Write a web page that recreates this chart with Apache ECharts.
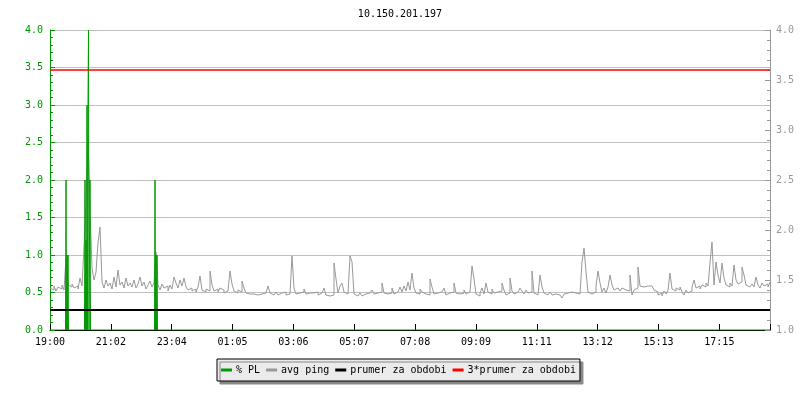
<!DOCTYPE html>
<html>
<head>
<meta charset="utf-8">
<script src="https://cdn.jsdelivr.net/npm/echarts@6/dist/echarts.min.js"></script>
<style>
html,body{margin:0;padding:0;background:#fff;}
#chart{width:800px;height:400px;}
</style>
</head>
<body>
<div id="chart"></div>
<script>
// Time axis: minutes after 19:00 (24 h window)
var xMax = 1440;
var xTickInterval = 121.7;
var xTickLabels = ['19:00','21:02','23:04','01:05','03:06','05:07','07:08','09:09','11:11','13:12','15:13','17:15'];

// avg ping [ms], one sample every 4 minutes starting at 19:00
var pingValues = [
  1.42,1.40,1.44,1.39,1.43,1.41,1.45,1.40,1.72,1.45,
  1.43,1.46,1.42,1.44,1.41,1.52,1.44,1.83,2.26,2.92,
  2.22,1.62,1.50,1.58,1.87,2.03,1.48,1.42,1.50,1.44,
  1.47,1.41,1.53,1.43,1.60,1.45,1.48,1.42,1.52,1.44,
  1.47,1.43,1.50,1.42,1.46,1.53,1.44,1.48,1.41,1.45,
  1.49,1.43,1.47,1.78,1.45,1.40,1.46,1.42,1.44,1.39,
  1.45,1.41,1.53,1.47,1.42,1.50,1.44,1.52,1.43,1.40,
  1.42,1.39,1.41,1.38,1.43,1.54,1.40,1.38,1.41,1.39,
  1.59,1.45,1.39,1.41,1.38,1.42,1.40,1.37,1.39,1.41,
  1.59,1.46,1.39,1.37,1.40,1.38,1.49,1.42,1.37,1.36,
  1.37,1.36,1.38,1.35,1.37,1.36,1.34,1.37,1.36,1.44,
  1.37,1.35,1.36,1.38,1.35,1.37,1.36,1.38,1.35,1.36,
  1.37,1.74,1.42,1.36,1.37,1.35,1.38,1.41,1.36,1.37,
  1.35,1.37,1.36,1.38,1.35,1.37,1.36,1.42,1.35,1.34,
  1.36,1.35,1.67,1.51,1.37,1.44,1.47,1.38,1.36,1.37,
  1.74,1.68,1.36,1.34,1.35,1.37,1.34,1.36,1.35,1.37,
  1.36,1.40,1.36,1.37,1.35,1.38,1.47,1.37,1.36,1.38,
  1.37,1.42,1.36,1.38,1.37,1.43,1.38,1.44,1.39,1.48,
  1.40,1.57,1.42,1.37,1.36,1.41,1.38,1.36,1.37,1.35,
  1.51,1.43,1.36,1.37,1.35,1.38,1.36,1.42,1.35,1.37,
  1.36,1.38,1.47,1.37,1.36,1.38,1.37,1.40,1.36,1.38,
  1.37,1.64,1.51,1.36,1.34,1.37,1.42,1.36,1.47,1.38,
  1.36,1.41,1.37,1.38,1.36,1.39,1.47,1.40,1.35,1.37,
  1.52,1.39,1.36,1.38,1.37,1.42,1.39,1.36,1.40,1.37,
  1.38,1.59,1.37,1.35,1.36,1.55,1.43,1.37,1.35,1.36,
  1.38,1.35,1.36,1.37,1.35,1.34,1.32,1.36,1.37,1.35,
  1.38,1.36,1.37,1.39,1.36,1.38,1.68,1.82,1.58,1.38,
  1.36,1.37,1.38,1.44,1.59,1.47,1.38,1.42,1.37,1.43,
  1.55,1.45,1.40,1.42,1.41,1.39,1.42,1.40,1.41,1.39,
  1.55,1.35,1.40,1.42,1.63,1.44,1.43,1.45,1.44,1.46,
  1.44,1.43,1.40,1.38,1.35,1.37,1.34,1.39,1.36,1.40,
  1.57,1.41,1.39,1.42,1.40,1.43,1.38,1.35,1.40,1.37,
  1.39,1.43,1.50,1.42,1.44,1.41,1.45,1.43,1.47,1.44,
  1.67,1.88,1.45,1.68,1.55,1.47,1.67,1.52,1.45,1.43,
  1.47,1.44,1.65,1.50,1.46,1.48,1.63,1.55,1.45,1.43,
  1.44,1.46,1.43,1.53,1.45,1.42,1.47,1.44,1.46,1.43,
  1.48
];
var pingStep = 4;

// packet loss [%] samples (minute, value); zero elsewhere
var plTimes  = [31, 32, 33, 34, 35, 36, 37,
                69, 70, 71, 72, 73, 74, 75, 76, 77, 78, 79, 80, 81,
                209, 210, 211, 212, 213, 214, 215];
var plValues = [0, 2.0, 0, 1.0, 0, 1.0, 0,
                0, 2.0, 0, 1.2, 0, 3.0, 0, 3.0, 4.0, 0, 1.1, 2.0, 0,
                0, 2.0, 0, 1.0, 0, 1.0, 0];

var avgPeriod = 1.2;
var avgPeriod3 = 3.6;

var seriesNames = ['% PL', 'avg ping', 'prumer za obdobi', '3*prumer za obdobi'];

var GREEN = '#009900', GRAY = '#999999';
var FONT = 'DejaVu Sans Mono';

var plData = [[0, 0]];
for (var i = 0; i < plTimes.length; i++) plData.push([plTimes[i], plValues[i]]);
plData.push([xMax, 0]);

var pingData = pingValues.map(function (v, i) { return [i * pingStep, v]; });

var chart = echarts.init(document.getElementById('chart'), null, {renderer: 'canvas'});
chart.setOption({
  animation: false,
  backgroundColor: '#ffffff',
  title: {
    text: '10.150.201.197', left: 'center', top: 4,
    textStyle: {fontFamily: FONT, fontSize: 10, fontWeight: 'normal', color: '#000'}
  },
  legend: {
    data: seriesNames.map(function (n) { return {name: n, icon: 'rect'}; }),
    left: 217, top: 359,
    itemWidth: 11, itemHeight: 3, itemGap: 6,
    padding: [6, 4, 6, 4],
    backgroundColor: '#ebebeb', borderColor: '#000', borderWidth: 1,
    shadowColor: '#888888', shadowBlur: 0, shadowOffsetX: 3, shadowOffsetY: 3,
    textStyle: {fontFamily: FONT, fontSize: 10, color: '#000', padding: [0, 0, 0, -1]}
  },
  grid: {left: 50, right: 30, top: 30, bottom: 70, containLabel: false},
  xAxis: {
    type: 'value', min: 0, max: xMax, interval: xTickInterval,
    axisLine: {lineStyle: {color: '#000', width: 1}},
    axisTick: {inside: true, length: 6, lineStyle: {color: '#000'}},
    splitLine: {show: false},
    axisLabel: {
      fontFamily: FONT, fontSize: 10, color: '#000', margin: 7,
      formatter: function (v) {
        if (v >= xMax - 1) return '';
        var k = Math.round(v / xTickInterval);
        return xTickLabels[k] || '';
      }
    }
  },
  yAxis: [{
    type: 'value', min: 0, max: 4, interval: 0.5, position: 'left',
    axisLine: {show: true, lineStyle: {color: GREEN, width: 1}},
    axisTick: {show: true, inside: true, length: 5, lineStyle: {color: GREEN}},
    minorTick: {show: true, splitNumber: 5, length: 3, lineStyle: {color: GREEN}},
    splitLine: {show: true, lineStyle: {color: '#c0c0c0', width: 1}},
    axisLabel: {fontFamily: FONT, fontSize: 10, color: GREEN, margin: 7,
      formatter: function (v) { return v.toFixed(1); }}
  }, {
    type: 'value', min: 1, max: 4, interval: 0.5, position: 'right',
    axisLine: {show: true, lineStyle: {color: GRAY, width: 1}},
    axisTick: {show: true, inside: true, length: 5, lineStyle: {color: GRAY}},
    minorTick: {show: true, splitNumber: 5, length: 3, lineStyle: {color: GRAY}},
    splitLine: {show: false},
    axisLabel: {fontFamily: FONT, fontSize: 10, color: GRAY, margin: 6,
      formatter: function (v) { return v.toFixed(1); }}
  }],
  series: [{
    name: seriesNames[1], type: 'line', yAxisIndex: 1, data: pingData, step: 'end',
    showSymbol: false, symbol: 'none', color: GRAY,
    lineStyle: {color: GRAY, width: 1}, z: 2
  }, {
    name: seriesNames[0], type: 'line', yAxisIndex: 0, data: plData, step: 'end',
    showSymbol: false, symbol: 'none', color: GREEN,
    lineStyle: {color: GREEN, width: 1}, z: 3
  }, {
    name: seriesNames[2], type: 'line', yAxisIndex: 1,
    data: [[0, avgPeriod], [xMax, avgPeriod]],
    showSymbol: false, symbol: 'none', color: '#000',
    lineStyle: {color: '#000', width: 2}, z: 4
  }, {
    name: seriesNames[3], type: 'line', yAxisIndex: 1,
    data: [[0, avgPeriod3], [xMax, avgPeriod3]],
    showSymbol: false, symbol: 'none', color: '#ff0000',
    lineStyle: {color: '#ff0000', width: 1.5}, z: 4
  }]
});
</script>
</body>
</html>
